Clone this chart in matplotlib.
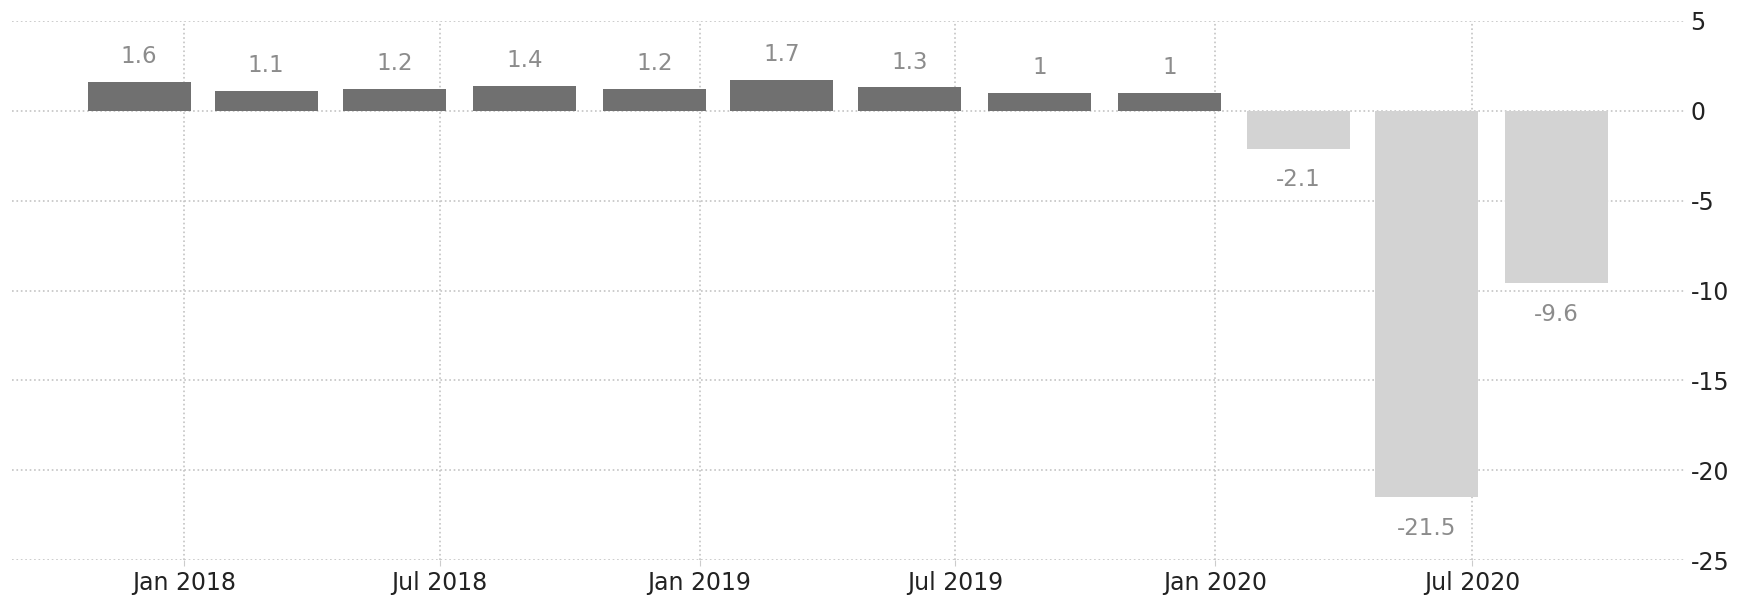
import pandas as pd
import matplotlib
matplotlib.use('Agg')
import matplotlib.pyplot as plt
import matplotlib.dates as mdates

plt.rcParams['axes.unicode_minus'] = False

# quarterly values
quarters = ['2017Q4', '2018Q1', '2018Q2', '2018Q3', '2018Q4', '2019Q1',
            '2019Q2', '2019Q3', '2019Q4', '2020Q1', '2020Q2', '2020Q3']
values = [1.6, 1.1, 1.2, 1.4, 1.2, 1.7, 1.3, 1.0, 1.0, -2.1, -21.5, -9.6]
y_ticks = [5, 0, -5, -10, -15, -20, -25]

# bars sit about a month before the quarter end
ends = pd.PeriodIndex(quarters, freq='Q').end_time.normalize()
centers = ends - pd.Timedelta(days=31)
colors = ['#707070' if v >= 0 else '#d3d3d3' for v in values]

fig = plt.figure(figsize=(17.45, 5.97), dpi=100)
ax = fig.add_axes([12 / 1745, 1 - 560 / 597, (1685 - 12) / 1745, (560 - 21) / 597])

ax.bar(centers, values, width=73, color=colors, zorder=2)

# value labels
for x, v in zip(centers, values):
    label = f'{v:g}'
    if v >= 0:
        ax.annotate(label, (x, v), xytext=(0, 10), textcoords='offset points',
                    ha='center', va='bottom', fontsize=16.5, color='#8c8c8c')
    else:
        ax.annotate(label, (x, v), xytext=(0, -14), textcoords='offset points',
                    ha='center', va='top', fontsize=16.5, color='#8c8c8c')

ax.set_ylim(-25, 5)
ax.set_yticks(y_ticks)
ax.set_xlim(pd.Timestamp('2017-09-01'), pd.Timestamp('2020-11-29'))
ax.xaxis.set_major_locator(mdates.MonthLocator(bymonth=[1, 7]))
ax.xaxis.set_major_formatter(mdates.DateFormatter('%b %Y'))

ax.yaxis.tick_right()
ax.tick_params(axis='y', length=0, pad=4, labelsize=17, labelcolor='#222222')
ax.tick_params(axis='x', length=4, color='#cccccc', pad=4, labelsize=17, labelcolor='#222222')

ax.grid(True, linestyle=':', color='#c4c4c4', linewidth=1.2, zorder=0)
ax.set_axisbelow(True)
for s in ax.spines.values():
    s.set_visible(False)

fig.savefig('out.png', dpi=100)
